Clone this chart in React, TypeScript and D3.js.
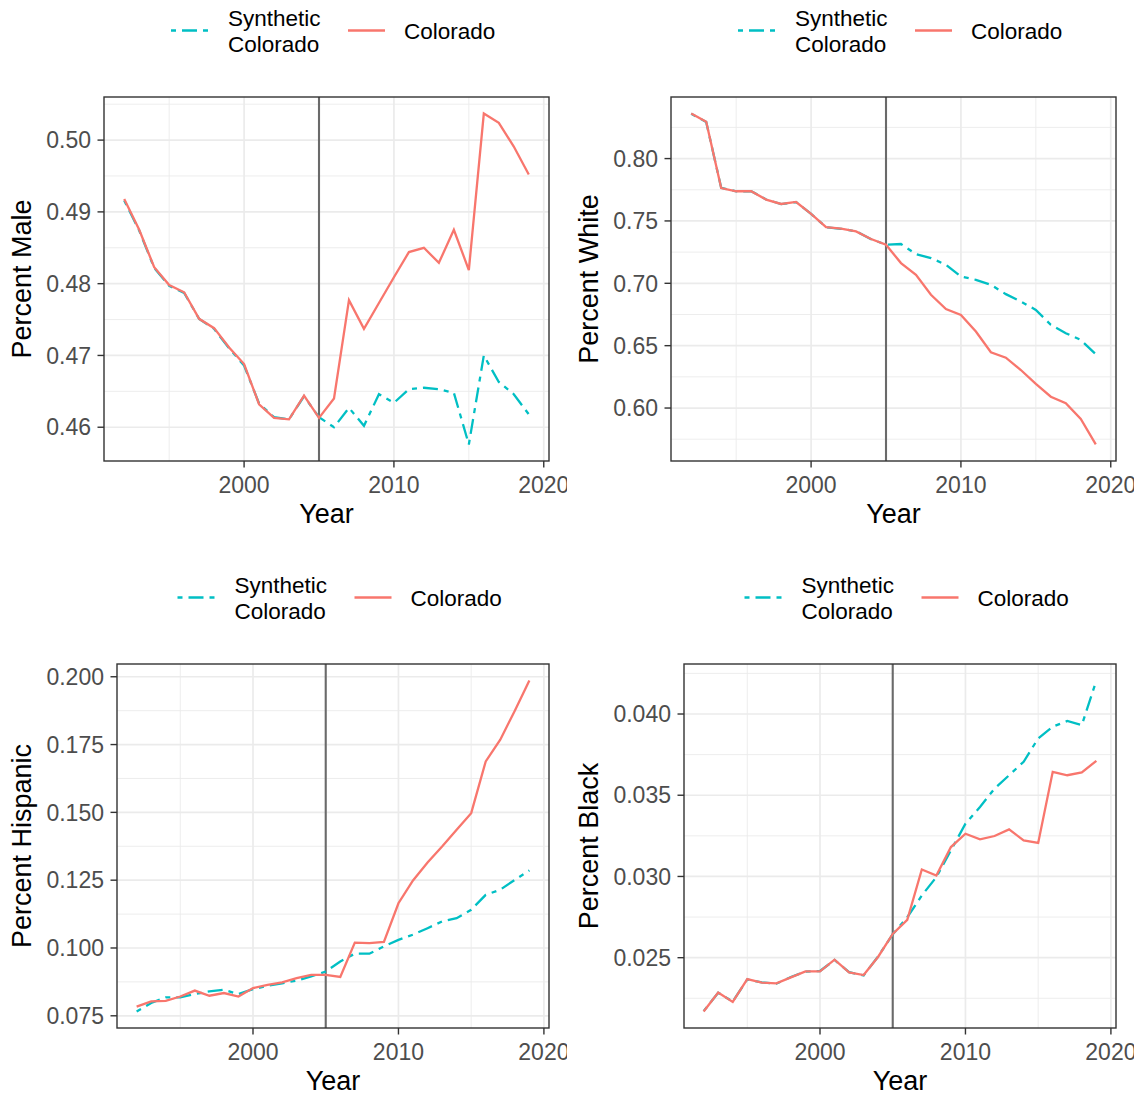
import React from 'react';
import * as d3 from 'd3';

const years = [1992, 1993, 1994, 1995, 1996, 1997, 1998, 1999, 2000, 2001, 2002, 2003, 2004, 2005,
    2006, 2007, 2008, 2009, 2010, 2011, 2012, 2013, 2014, 2015, 2016, 2017, 2018, 2019];

const maleColorado = [0.4918, 0.4875, 0.4823, 0.4798, 0.4788, 0.4751, 0.4738, 0.4711, 0.4688, 0.4632, 0.4613, 0.4611, 0.4644, 0.4613,
    0.4640, 0.4777, 0.4737, 0.4773, 0.4809, 0.4844, 0.4850, 0.4829, 0.4875, 0.4819, 0.5037, 0.5024, 0.4991, 0.4952];
const maleSynthetic = [0.4916, 0.4874, 0.4822, 0.4797, 0.4787, 0.4751, 0.4737, 0.4710, 0.4686, 0.4633, 0.4614, 0.4611, 0.4643, 0.4614,
    0.4600, 0.4627, 0.4602, 0.4646, 0.4634, 0.4653, 0.4655, 0.4653, 0.4648, 0.4576, 0.4700, 0.4663, 0.4646, 0.4618];

const whiteColorado = [0.8361, 0.8295, 0.7764, 0.7738, 0.7738, 0.7671, 0.7636, 0.7652, 0.7556, 0.7451, 0.7438, 0.7416, 0.7355, 0.7309,
    0.7162, 0.7068, 0.6908, 0.6793, 0.6747, 0.6613, 0.6447, 0.6404, 0.6305, 0.6193, 0.6091, 0.6038, 0.5912, 0.5708];
const whiteSynthetic = [0.8359, 0.8293, 0.7766, 0.7737, 0.7739, 0.7672, 0.7635, 0.7651, 0.7557, 0.7450, 0.7437, 0.7417, 0.7354, 0.7310,
    0.7315, 0.7234, 0.7202, 0.7149, 0.7055, 0.7028, 0.6988, 0.6913, 0.6854, 0.6787, 0.6667, 0.6600, 0.6546, 0.6431];

const hispanicColorado = [0.0784, 0.0803, 0.0805, 0.0821, 0.0843, 0.0824, 0.0834, 0.0821, 0.0852, 0.0864, 0.0873, 0.0889, 0.0901, 0.0901,
    0.0893, 0.1020, 0.1018, 0.1022, 0.1165, 0.1249, 0.1315, 0.1374, 0.1436, 0.1497, 0.1688, 0.1768, 0.1875, 0.1986];
const hispanicSynthetic = [0.0766, 0.0797, 0.0818, 0.0818, 0.0830, 0.0840, 0.0846, 0.0830, 0.0848, 0.0861, 0.0870, 0.0880, 0.0895, 0.0913,
    0.0950, 0.0979, 0.0979, 0.1006, 0.1030, 0.1049, 0.1073, 0.1098, 0.1110, 0.1141, 0.1196, 0.1215, 0.1251, 0.1286];

const blackColorado = [0.02169, 0.02286, 0.02228, 0.02368, 0.02346, 0.02342, 0.02379, 0.02416, 0.02416, 0.02488, 0.02409, 0.02393, 0.02506, 0.02646,
    0.02733, 0.03043, 0.03006, 0.03181, 0.03263, 0.03228, 0.03249, 0.03290, 0.03222, 0.03206, 0.03644, 0.03623, 0.03640, 0.03712];
const blackSynthetic = [0.02171, 0.02284, 0.02230, 0.02366, 0.02348, 0.02340, 0.02381, 0.02414, 0.02418, 0.02486, 0.02411, 0.02391, 0.02508, 0.02644,
    0.02749, 0.02883, 0.02996, 0.03160, 0.03325, 0.03428, 0.03541, 0.03623, 0.03706, 0.03850, 0.03922, 0.03957, 0.03932, 0.04206];

const yearTicks = [2000, 2010, 2020];
const maleTicks = [0.46, 0.47, 0.48, 0.49, 0.50];
const whiteTicks = [0.60, 0.65, 0.70, 0.75, 0.80];
const hispanicTicks = [0.075, 0.100, 0.125, 0.150, 0.175, 0.200];
const blackTicks = [0.025, 0.030, 0.035, 0.040];

const treatmentYear = 2005;
const synthLabel = ['Synthetic', 'Colorado'];
const actualLabel = 'Colorado';

const RED = '#F8766D';
const TEAL = '#00BFC4';
const FONT = '"Liberation Sans", Arial, Helvetica, sans-serif';
const DASH = '5,6,15,6';

const panels = [
    { title: 'Percent Male', actual: maleColorado, synth: maleSynthetic, ticks: maleTicks, fmt: '.2f', dx: 0, dy: 0 },
    { title: 'Percent White', actual: whiteColorado, synth: whiteSynthetic, ticks: whiteTicks, fmt: '.2f', dx: 567, dy: 0 },
    { title: 'Percent Hispanic', actual: hispanicColorado, synth: hispanicSynthetic, ticks: hispanicTicks, fmt: '.3f', dx: 0, dy: 567 },
    { title: 'Percent Black', actual: blackColorado, synth: blackSynthetic, ticks: blackTicks, fmt: '.3f', dx: 567, dy: 567 },
];

// ggplot style 5% expansion
const expand = (lo, hi) => {
    const pad = (hi - lo) * 0.05;
    return [lo - pad, hi + pad];
};

// minor breaks halfway between majors, plus one either side
const minorOf = (ticks) => {
    const step = ticks[1] - ticks[0];
    const out = [ticks[0] - step / 2];
    ticks.forEach(t => out.push(t + step / 2));
    return out;
};

function Panel({ p, i }) {
    const left = p.fmt === '.3f' ? 117 : 104;
    const right = 549, top = 97, bottom = 461;
    const cx = (left + right) / 2;

    const x = d3.scaleLinear()
        .domain(expand(d3.min(years), d3.max(years)))
        .range([left, right]);
    const all = p.actual.concat(p.synth);
    const yDom = expand(d3.min(all), d3.max(all));
    const y = d3.scaleLinear().domain(yDom).range([bottom, top]);

    const line = d3.line()
        .x((d, k) => x(years[k]))
        .y(d => y(d));

    const xMinor = minorOf(yearTicks).filter(v => v > x.domain()[0] && v < x.domain()[1]);
    const yMinor = minorOf(p.ticks).filter(v => v > yDom[0] && v < yDom[1]);
    const fmt = d3.format(p.fmt);

    return (
        <g transform={`translate(${p.dx},${p.dy})`} clipPath={`url(#clip-${i})`}>
            <clipPath id={`clip-${i}`}>
                <rect x={0} y={0} width={567} height={567} />
            </clipPath>

            {/* legend */}
            <g fontFamily={FONT} fontSize={22.5} fill="#000">
                <line x1={cx - 155.5} x2={cx - 118.5} y1={30.5} y2={30.5} stroke={TEAL} strokeWidth={2.3} strokeDasharray={DASH} />
                <text x={cx - 98.5} y={26}>{synthLabel[0]}</text>
                <text x={cx - 98.5} y={51.5}>{synthLabel[1]}</text>
                <line x1={cx + 21.5} x2={cx + 58.5} y1={30.5} y2={30.5} stroke={RED} strokeWidth={2.3} />
                <text x={cx + 77.5} y={38.5}>{actualLabel}</text>
            </g>

            {/* grid */}
            {xMinor.map(v => <line key={'xm' + v} x1={x(v)} x2={x(v)} y1={top} y2={bottom} stroke="#EBEBEB" strokeWidth={0.9} />)}
            {yMinor.map(v => <line key={'ym' + v} x1={left} x2={right} y1={y(v)} y2={y(v)} stroke="#EBEBEB" strokeWidth={0.9} />)}
            {yearTicks.map(v => <line key={'xg' + v} x1={x(v)} x2={x(v)} y1={top} y2={bottom} stroke="#EBEBEB" strokeWidth={1.7} />)}
            {p.ticks.map(v => <line key={'yg' + v} x1={left} x2={right} y1={y(v)} y2={y(v)} stroke="#EBEBEB" strokeWidth={1.7} />)}

            <line x1={x(treatmentYear)} x2={x(treatmentYear)} y1={top} y2={bottom} stroke="#6a6a6a" strokeWidth={2.1} />

            <path d={line(p.synth)} fill="none" stroke={TEAL} strokeWidth={2.3} strokeDasharray={DASH} />
            <path d={line(p.actual)} fill="none" stroke={RED} strokeWidth={2.3} />

            <rect x={left} y={top} width={right - left} height={bottom - top} fill="none" stroke="#333333" strokeWidth={1.4} />

            {/* axes */}
            <g fontFamily={FONT} fontSize={23} fill="#4D4D4D">
                {p.ticks.map(v => (
                    <g key={'yt' + v}>
                        <line x1={left - 6.5} x2={left} y1={y(v)} y2={y(v)} stroke="#333333" strokeWidth={1.4} />
                        <text x={left - 13} y={y(v) + 8.2} textAnchor="end">{fmt(v)}</text>
                    </g>
                ))}
                {yearTicks.map(v => (
                    <g key={'xt' + v}>
                        <line x1={x(v)} x2={x(v)} y1={bottom} y2={bottom + 6.5} stroke="#333333" strokeWidth={1.4} />
                        <text x={x(v)} y={493.3} textAnchor="middle">{v}</text>
                    </g>
                ))}
            </g>
            <text x={cx} y={523.3} textAnchor="middle" fontFamily={FONT} fontSize={27} fill="#000">Year</text>
            <text transform={`translate(31,${(top + bottom) / 2}) rotate(-90)`} textAnchor="middle"
                fontFamily={FONT} fontSize={27} fill="#000">{p.title}</text>
        </g>
    );
}

export default function App() {
    return (
        <svg width={1140} height={1095} style={{ position: 'absolute', left: 0, top: 0, background: '#fff' }}>
            <rect x={0} y={0} width={1140} height={1095} fill="#fff" />
            {panels.map((p, i) => <Panel key={p.title} p={p} i={i} />)}
        </svg>
    );
}
